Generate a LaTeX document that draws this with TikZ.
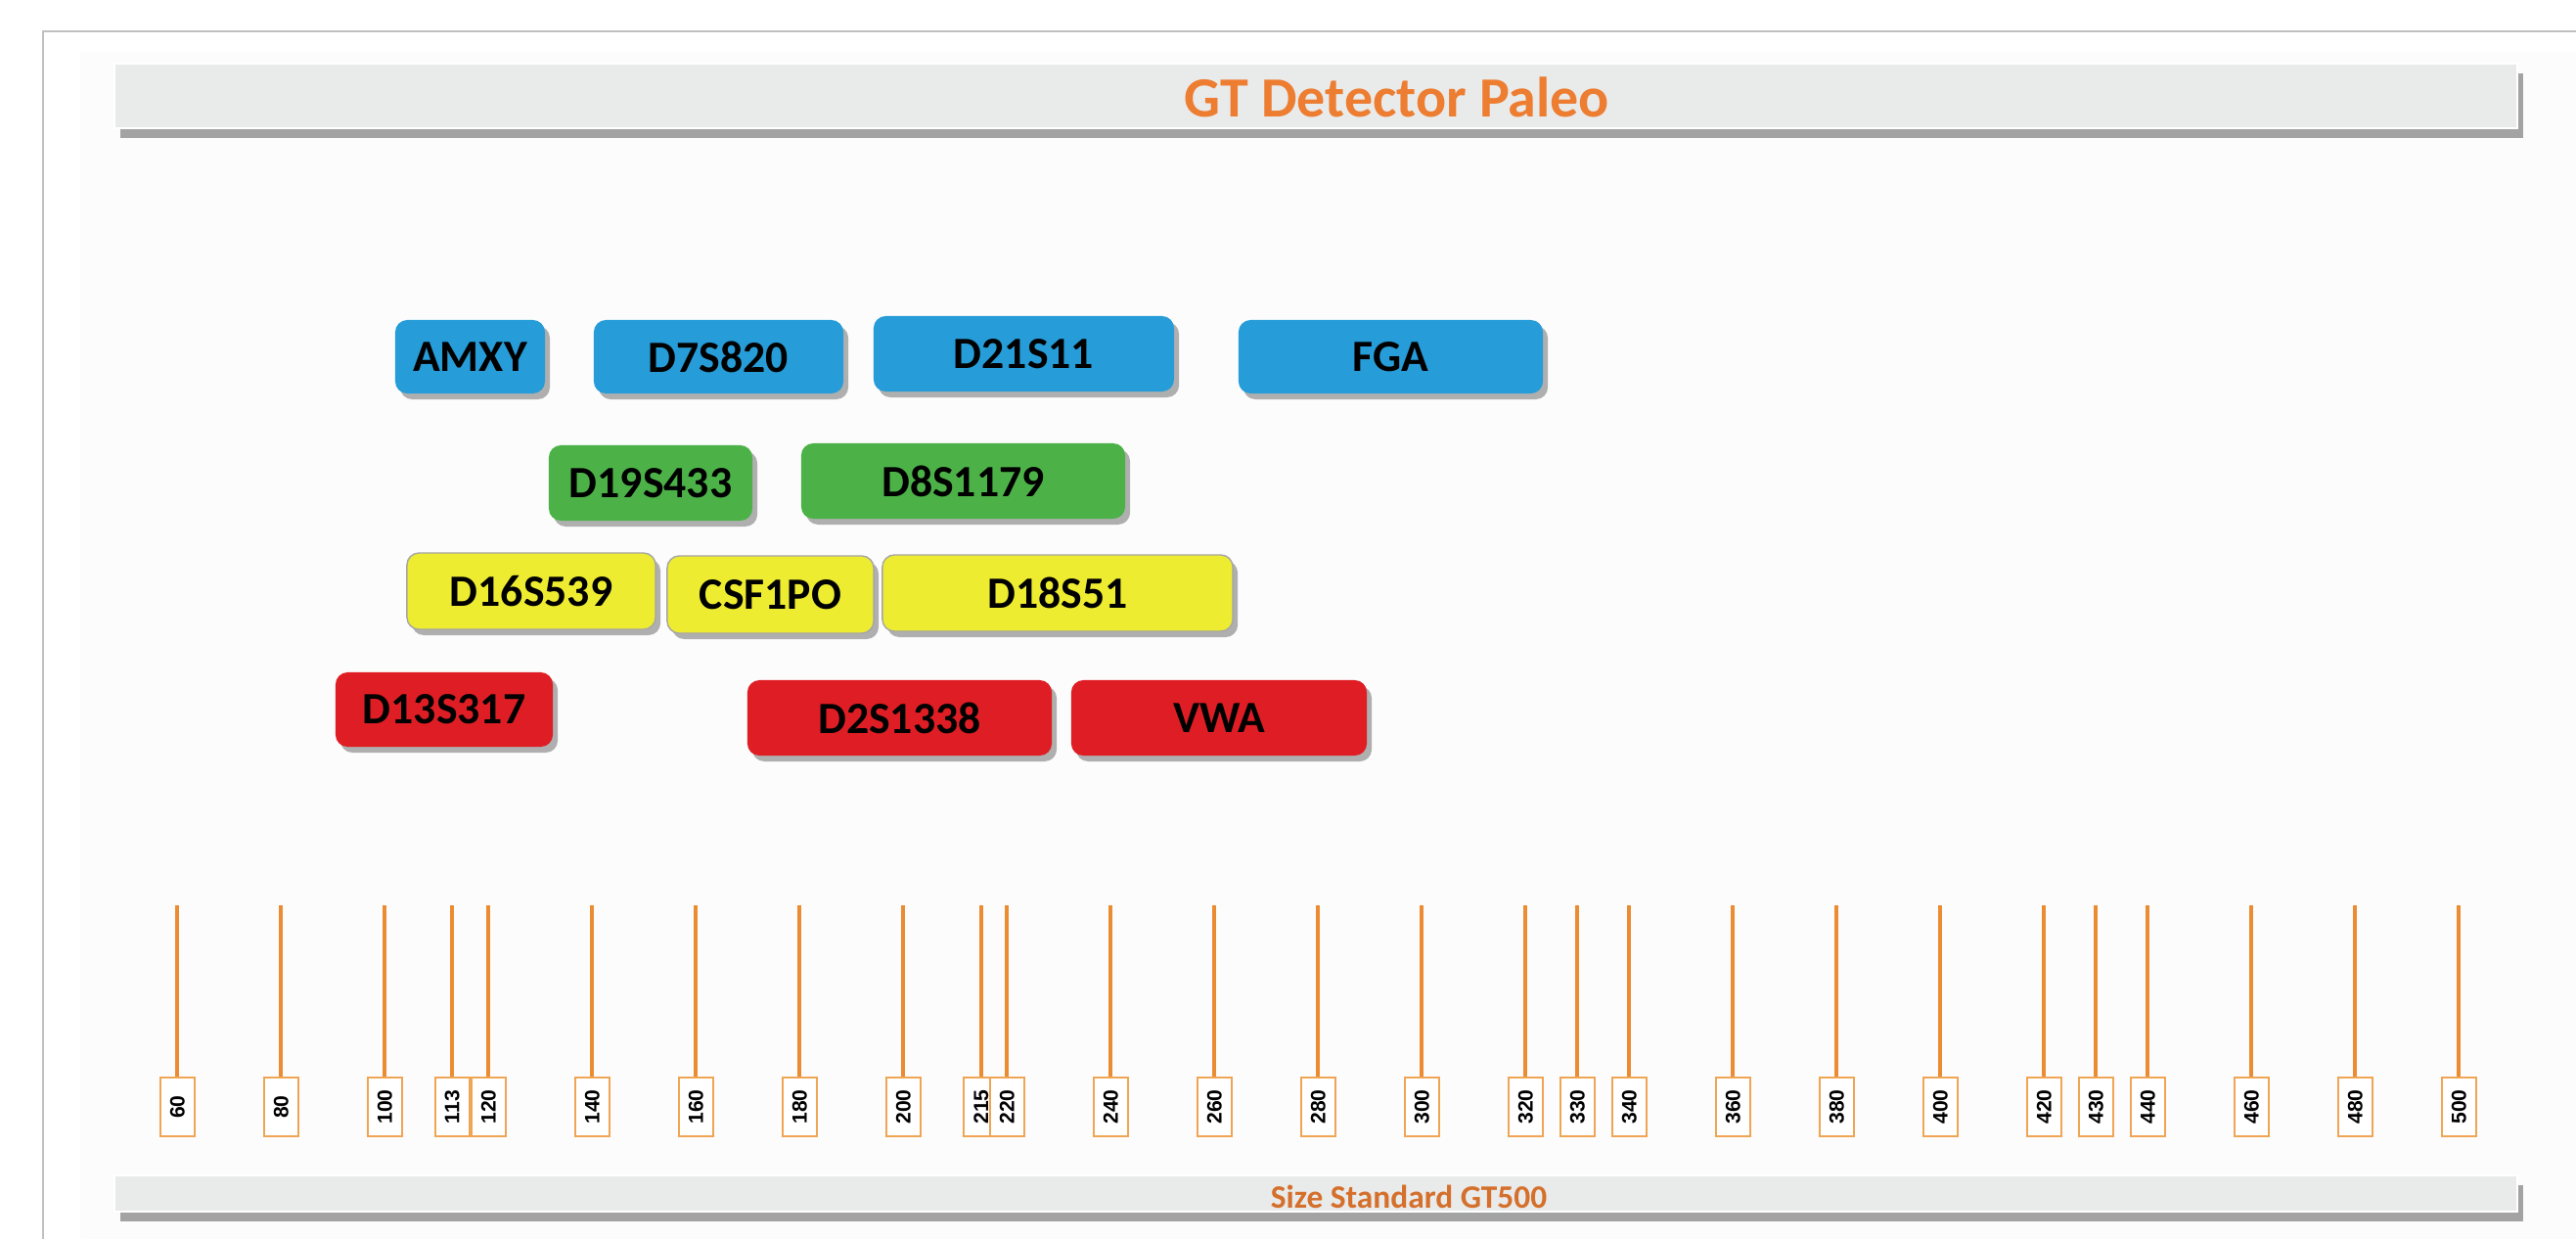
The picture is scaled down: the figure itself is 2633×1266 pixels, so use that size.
\documentclass[tikz,border=0pt]{standalone}
\usepackage{fontspec}
\usepackage{graphicx}
\newfontfamily\calfont{Carlito}
\newfontfamily\arfont{Liberation Sans}
\usetikzlibrary{shadows}
\definecolor{ablue}{RGB}{38,156,216}
\definecolor{agreen}{RGB}{76,178,72}
\definecolor{ayellow}{RGB}{238,236,48}
\definecolor{ared}{RGB}{222,30,36}
\definecolor{aorange}{RGB}{237,125,49}
\definecolor{tickor}{RGB}{236,140,50}
\definecolor{boxor}{RGB}{240,165,85}
\definecolor{barfill}{RGB}{233,234,234}
\definecolor{framegray}{RGB}{192,192,192}
\begin{document}
\begin{tikzpicture}[x=0.01cm,y=-0.01cm,
  locus/.style={rounded corners=3.5pt, inner sep=0pt, text=black,
    font=\calfont\bfseries\fontsize{13}{15}\selectfont,
    drop shadow={shadow xshift=0.05cm, shadow yshift=-0.06cm, opacity=0.3, fill=black}},
  bluebox/.style={locus, fill=ablue},
  greenbox/.style={locus, fill=agreen},
  yellowbox/.style={locus, fill=ayellow, draw=black!35, line width=0.4pt},
  redbox/.style={locus, fill=ared},
  bar/.style={fill=barfill, draw=white, line width=0.6pt,
    drop shadow={shadow xshift=0.06cm, shadow yshift=-0.1cm, opacity=1, fill=black!36}},
  tick/.style={draw=tickor, line width=1.05pt},
  tlab/.style={draw=boxor, line width=0.6pt, fill=white, inner sep=0pt,
    minimum width=0.35cm, minimum height=0.6cm,
    font=\arfont\bfseries\fontsize{6}{7}\selectfont, text=black}
]
\useasboundingbox (0,0) rectangle (2633,1266);
\fill[white] (0,0) rectangle (2633,1266);
\fill[black!1] (82,53) rectangle (2633,1266);
\draw[framegray, line width=0.6pt] (2633,32) -- (44,32) -- (44,1266);

% title bar
\path[bar] (117,65) rectangle (2573,131);
\node[font=\calfont\bfseries\fontsize{16.5}{19}\selectfont, text=aorange] (title) at (1428,99) {GT Detector Paleo};

% bottom bar
\path[bar] (117,1201) rectangle (2573,1238);
\node[font=\calfont\bfseries\fontsize{9.5}{11}\selectfont, text=aorange!90!black] (sizestd) at (1440,1223) {Size Standard GT500};

% blue row
\node[bluebox, minimum width=1.53cm, minimum height=0.75cm] (amxy) at (480.5,364.5) {AMXY};
\node[bluebox, minimum width=2.55cm, minimum height=0.75cm] (d7) at (734.5,364.5) {D7S820};
\node[bluebox, minimum width=3.07cm, minimum height=0.77cm] (d21) at (1046.5,361.5) {D21S11};
\node[bluebox, minimum width=3.11cm, minimum height=0.75cm] (fga) at (1421.5,364.5) {FGA};

% green row
\node[greenbox, minimum width=2.08cm, minimum height=0.77cm] (d19) at (665,493.5) {D19S433};
\node[greenbox, minimum width=3.31cm, minimum height=0.77cm] (d8) at (984.5,491.5) {D8S1179};

% yellow row
\node[yellowbox, minimum width=2.54cm, minimum height=0.78cm] (d16) at (543,604) {D16S539};
\node[yellowbox, minimum width=2.11cm, minimum height=0.79cm] (csf) at (787.5,607.5) {CSF1PO};
\node[yellowbox, minimum width=3.58cm, minimum height=0.78cm] (d18) at (1081,606) {D18S51};

% red row
\node[redbox, minimum width=2.22cm, minimum height=0.76cm] (d13) at (454,725) {D13S317};
\node[redbox, minimum width=3.11cm, minimum height=0.77cm] (d2) at (919.5,733.5) {D2S1338};
\node[redbox, minimum width=3.02cm, minimum height=0.77cm] (vwa) at (1246,733.5) {VWA};

% size standard ticks
\foreach \v in {60,80,100,113,120,140,160,180,200,215,220,240,260,280,300,320,330,340,360,380,400,420,430,440,460,480,500}{
  \pgfmathsetmacro\xx{181.3+(\v-60)*5.30}
  \node[tlab] (l\v) at (\xx,1131) {\rotatebox{90}{\v}};
  \coordinate (c\v) at (\xx,925);
  \draw[tick] (c\v) -- (l\v.north);
}
\end{tikzpicture}
\end{document}
